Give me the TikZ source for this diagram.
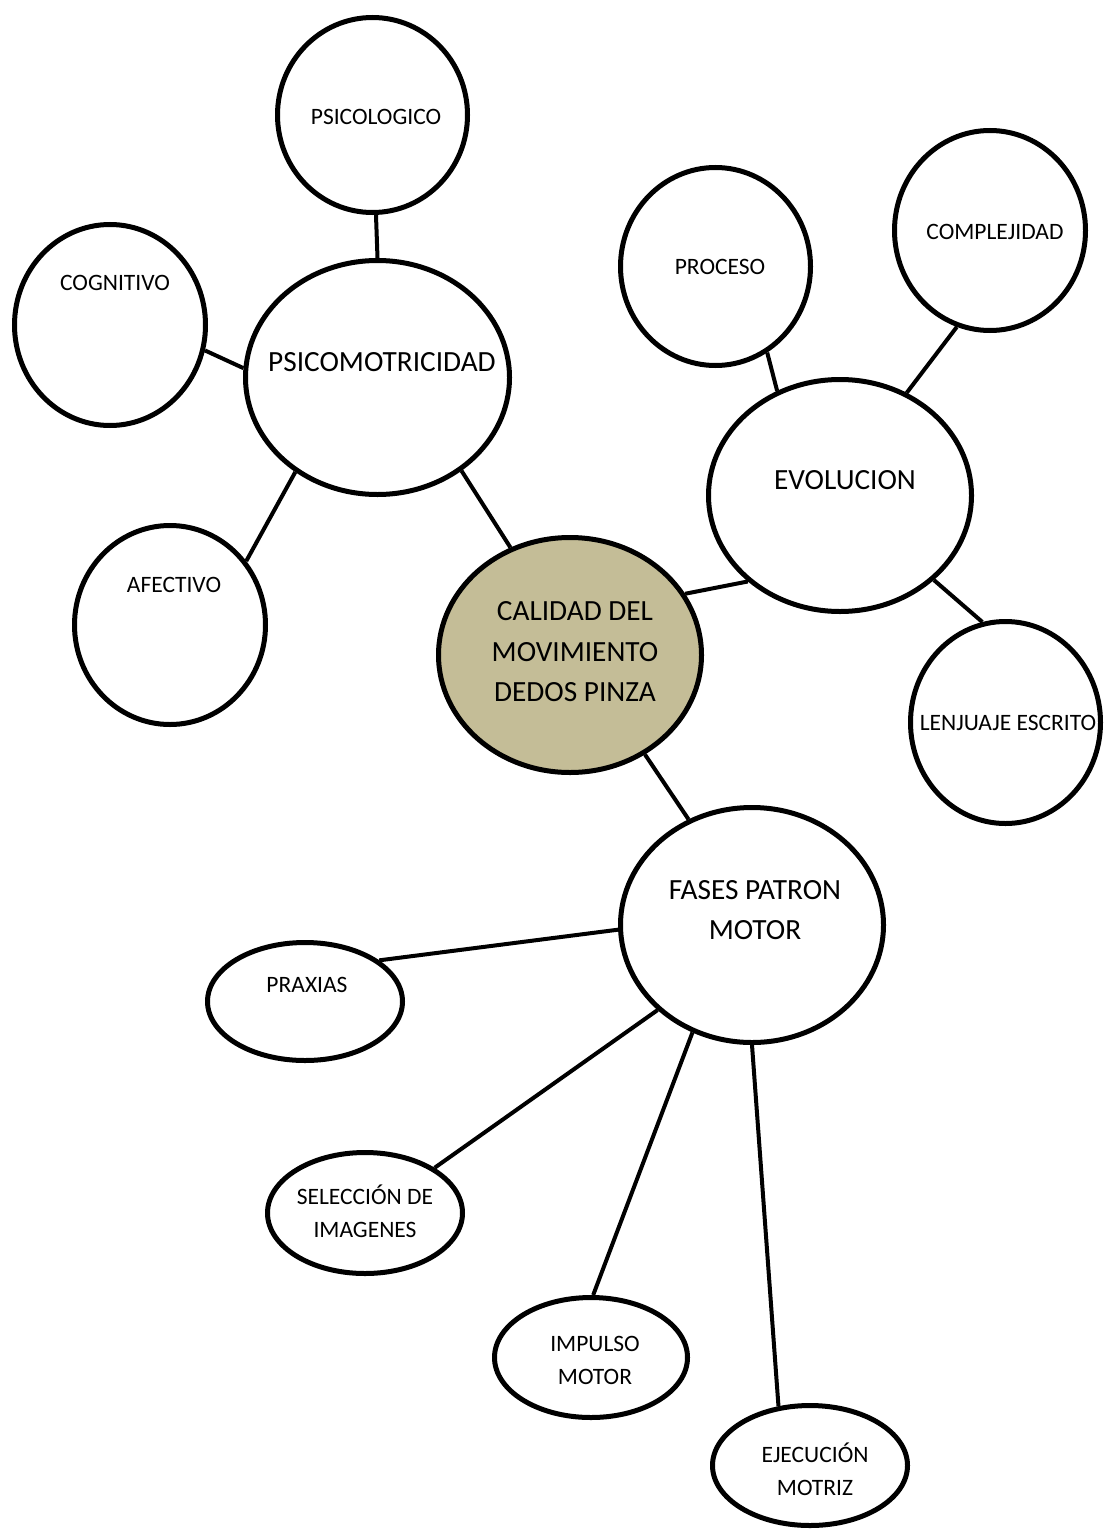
\documentclass[tikz,border=0pt]{standalone}
\usepackage{fontspec}
\setmainfont{Carlito}
\usetikzlibrary{shapes.geometric}
\definecolor{tanfill}{HTML}{C4BD97}
\begin{document}
\begin{tikzpicture}[x=1pt,y=-1pt,
  bub/.style={ellipse, draw=black, line width=5pt, inner sep=0pt, fill=white},
  sm/.style={font=\fontsize{23.5}{33}\selectfont, align=center, inner sep=0pt},
  lg/.style={font=\fontsize{29.3}{40.5}\selectfont, align=center, inner sep=0pt},
  conn/.style={line width=4pt}]
\useasboundingbox (0,0) rectangle (1112,1533);

% ellipses
\node[bub, minimum width=190pt, minimum height=195pt] (psicologico) at (372.5,115) {};
\node[bub, minimum width=191pt, minimum height=201pt] (cognitivo) at (110,325) {};
\node[bub, minimum width=264pt, minimum height=234pt] (psicomot) at (377.5,377.5) {};
\node[bub, minimum width=191pt, minimum height=199pt] (afectivo) at (170,625) {};
\node[bub, minimum width=263pt, minimum height=235pt, fill=tanfill] (calidad) at (570,655) {};
\node[bub, minimum width=190pt, minimum height=198pt] (proceso) at (715.5,266.5) {};
\node[bub, minimum width=191pt, minimum height=200pt] (complejidad) at (990,230.5) {};
\node[bub, minimum width=263pt, minimum height=232pt] (evolucion) at (840,495.5) {};
\node[bub, minimum width=190pt, minimum height=202pt] (lenguaje) at (1005.5,722.5) {};
\node[bub, minimum width=263pt, minimum height=235pt] (fases) at (752,925) {};
\node[bub, minimum width=195pt, minimum height=118pt] (praxias) at (305,1001.5) {};
\node[bub, minimum width=195pt, minimum height=121pt] (seleccion) at (365,1213) {};
\node[bub, minimum width=193pt, minimum height=120pt] (impulso) at (591,1357.5) {};
\node[bub, minimum width=195pt, minimum height=120pt] (ejecucion) at (810,1465.5) {};

% texts
\node[sm] (t-psicologico) at (376,117) {PSICOLOGICO};
\node[sm] (t-cognitivo) at (115,283) {COGNITIVO};
\node[lg] (t-psicomot) at (382,362) {PSICOMOTRICIDAD};
\node[sm] (t-afectivo) at (174,585) {AFECTIVO};
\node[lg] (t-calidad) at (575,652) {CALIDAD DEL\\MOVIMIENTO\\DEDOS PINZA};
\node[sm] (t-proceso) at (720,267) {PROCESO};
\node[sm] (t-complejidad) at (995,232) {COMPLEJIDAD};
\node[lg] (t-evolucion) at (845,480) {EVOLUCION};
\node[sm] (t-lenguaje) at (1008,723) {LENJUAJE ESCRITO};
\node[lg] (t-fases) at (755,910) {FASES PATRON\\MOTOR};
\node[sm] (t-praxias) at (307,985) {PRAXIAS};
\node[sm] (t-seleccion) at (365,1211) {SELECCIÓN DE\\IMAGENES};
\node[sm] (t-impulso) at (595,1360) {IMPULSO\\MOTOR};
\node[sm] (t-ejecucion) at (815,1469) {EJECUCIÓN\\MOTRIZ};

% connectors
\draw[conn] (psicologico.-88) -- (psicomot.90.5);
\draw[conn] (cognitivo.-15.6) -- (psicomot.176.6);
\draw[conn] (afectivo.40.9) -- (psicomot.-131);
\draw[conn] (psicomot.-48.5) -- (calidad.119.3);
\draw[conn] (proceso.-59.4) -- (evolucion.121);
\draw[conn] (complejidad.-109) -- (evolucion.57.7);
\draw[conn] (calidad.28.7) -- (evolucion.-137.3);
\draw[conn] (evolucion.-42.5) -- (lenguaje.103);
\draw[conn] (calidad.-53.7) -- (fases.121);
\draw[conn] (fases.182) -- (praxias.29.9);
\draw[conn] (fases.-138) -- (seleccion.33.7);
\draw[conn] (fases.-119.9) -- (impulso.88);
\draw[conn] (fases.-90) -- (ejecucion.118);
\end{tikzpicture}
\end{document}
